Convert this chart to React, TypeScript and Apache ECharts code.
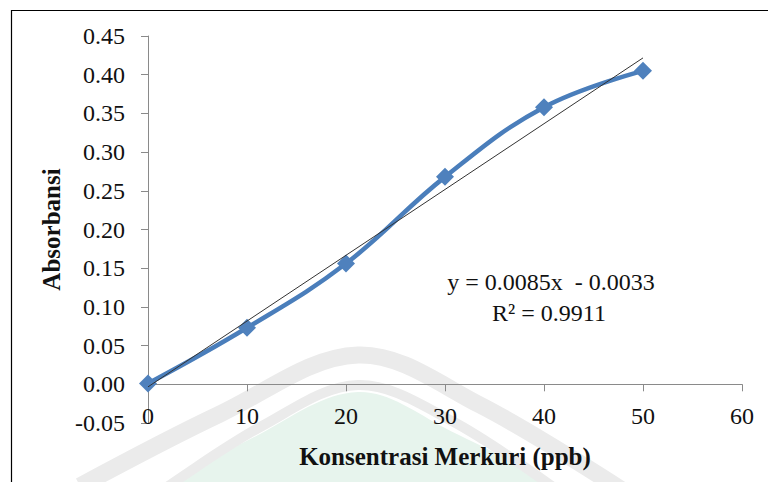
import React, { useEffect, useRef } from "react";
import * as echarts from "echarts";

// ---- data ----
const concentrations = [0, 10, 20, 30, 40, 50];
const absorbance = [0.001, 0.073, 0.156, 0.268, 0.358, 0.405];
const trendSlope = 0.0085;
const trendIntercept = -0.0033;
const trendRange = [0, 50];
const equationText = "y = 0.0085x  - 0.0033";
const r2Text = "R² = 0.9911";
const xTitle = "Konsentrasi Merkuri (ppb)";
const yTitle = "Absorbansi";
const xAxisMin = 0;
const xAxisMax = 60;
const xAxisStep = 10;
const yAxisMin = -0.05;
const yAxisMax = 0.45;
const yAxisStep = 0.05;

const FONT = "Liberation Serif";

export default function App() {
  const ref = useRef<HTMLDivElement>(null);

  useEffect(() => {
    if (!ref.current) return;
    const chart = echarts.init(ref.current, undefined, { renderer: "svg" });

    const mainData = concentrations.map((x, i) => [x, absorbance[i]]);
    const trendData = trendRange.map((x) => [x, trendSlope * x + trendIntercept]);

    chart.setOption({
      animation: false,
      backgroundColor: "#ffffff",
      textStyle: { fontFamily: FONT },
      grid: {
        left: 148,
        right: 26,
        top: 36,
        bottom: 59,
        containLabel: false,
        outerBoundsMode: "none",
      },
      xAxis: {
        type: "value",
        min: xAxisMin,
        max: xAxisMax,
        interval: xAxisStep,
        name: xTitle,
        nameLocation: "middle",
        nameGap: 21,
        nameTextStyle: { fontFamily: FONT, fontSize: 25, fontWeight: "bold", color: "#111" },
        axisLine: { onZero: true, lineStyle: { color: "#8a8a8a", width: 1 } },
        axisTick: { show: true, length: 7, lineStyle: { color: "#8a8a8a" } },
        axisLabel: { fontFamily: FONT, fontSize: 24, color: "#111", margin: -19 },
        splitLine: { show: false },
      },
      yAxis: {
        type: "value",
        min: yAxisMin,
        max: yAxisMax,
        interval: yAxisStep,
        name: yTitle,
        nameLocation: "middle",
        nameGap: 78,
        nameRotate: 90,
        nameTextStyle: { fontFamily: FONT, fontSize: 25, fontWeight: "bold", color: "#111" },
        axisLine: { show: true, onZero: false, lineStyle: { color: "#8a8a8a", width: 1 } },
        axisTick: { show: true, length: 7, lineStyle: { color: "#8a8a8a" } },
        axisLabel: {
          fontFamily: FONT,
          fontSize: 24,
          color: "#111",
          margin: 23,
          formatter: (v: number) => (Math.abs(v) < 1e-9 ? 0 : v).toFixed(2),
        },
        splitLine: { show: false },
      },
      graphic: [
        {
          type: "polyline",
          z: -10,
          silent: true,
          shape: {
            points: [[80, 486], [220, 414], [358, 355], [480, 405], [625, 492]],
            smooth: 0.35,
          },
          style: { stroke: "#ebebeb", lineWidth: 17, fill: "none" },
        },
        {
          type: "polygon",
          z: -11,
          silent: true,
          shape: {
            points: [[175, 490], [260, 434], [358, 392], [445, 428], [545, 490]],
            smooth: 0.35,
          },
          style: { fill: "#e7f4ed" },
        },
        {
          type: "polyline",
          z: -10,
          silent: true,
          shape: {
            points: [[160, 492], [262, 426], [358, 385], [452, 421], [560, 492]],
            smooth: 0.35,
          },
          style: { stroke: "#ebebeb", lineWidth: 10, fill: "none" },
        },
        {
          type: "rect",
          z: 100,
          silent: true,
          shape: { x: 11.5, y: 10.5, width: 800, height: 520 },
          style: { fill: "none", stroke: "#000", lineWidth: 1.2 },
        },
        {
          type: "text",
          z: 100,
          x: 551,
          y: 282,
          style: {
            text: equationText,
            fontFamily: FONT,
            fontSize: 24,
            fill: "#111",
            align: "center",
            verticalAlign: "middle",
          },
        },
        {
          type: "text",
          z: 100,
          x: 549,
          y: 313,
          style: {
            text: r2Text,
            fontFamily: FONT,
            fontSize: 24,
            fill: "#111",
            align: "center",
            verticalAlign: "middle",
          },
        },
      ],
      series: [
        {
          name: "Trendline",
          type: "line",
          data: trendData,
          showSymbol: false,
          symbol: "none",
          lineStyle: { color: "#333", width: 1 },
          z: 3,
          silent: true,
        },
        {
          name: "Absorbansi",
          type: "line",
          data: mainData,
          smooth: 0.4,
          symbol: "diamond",
          symbolSize: 18,
          lineStyle: { color: "#4a7ebb", width: 4.5 },
          itemStyle: { color: "#4f81bd" },
          z: 2,
        },
      ],
    });

    return () => chart.dispose();
  }, []);

  return (
    <div
      ref={ref}
      style={{ position: "fixed", left: 0, top: 0, width: 768, height: 482 }}
    />
  );
}
